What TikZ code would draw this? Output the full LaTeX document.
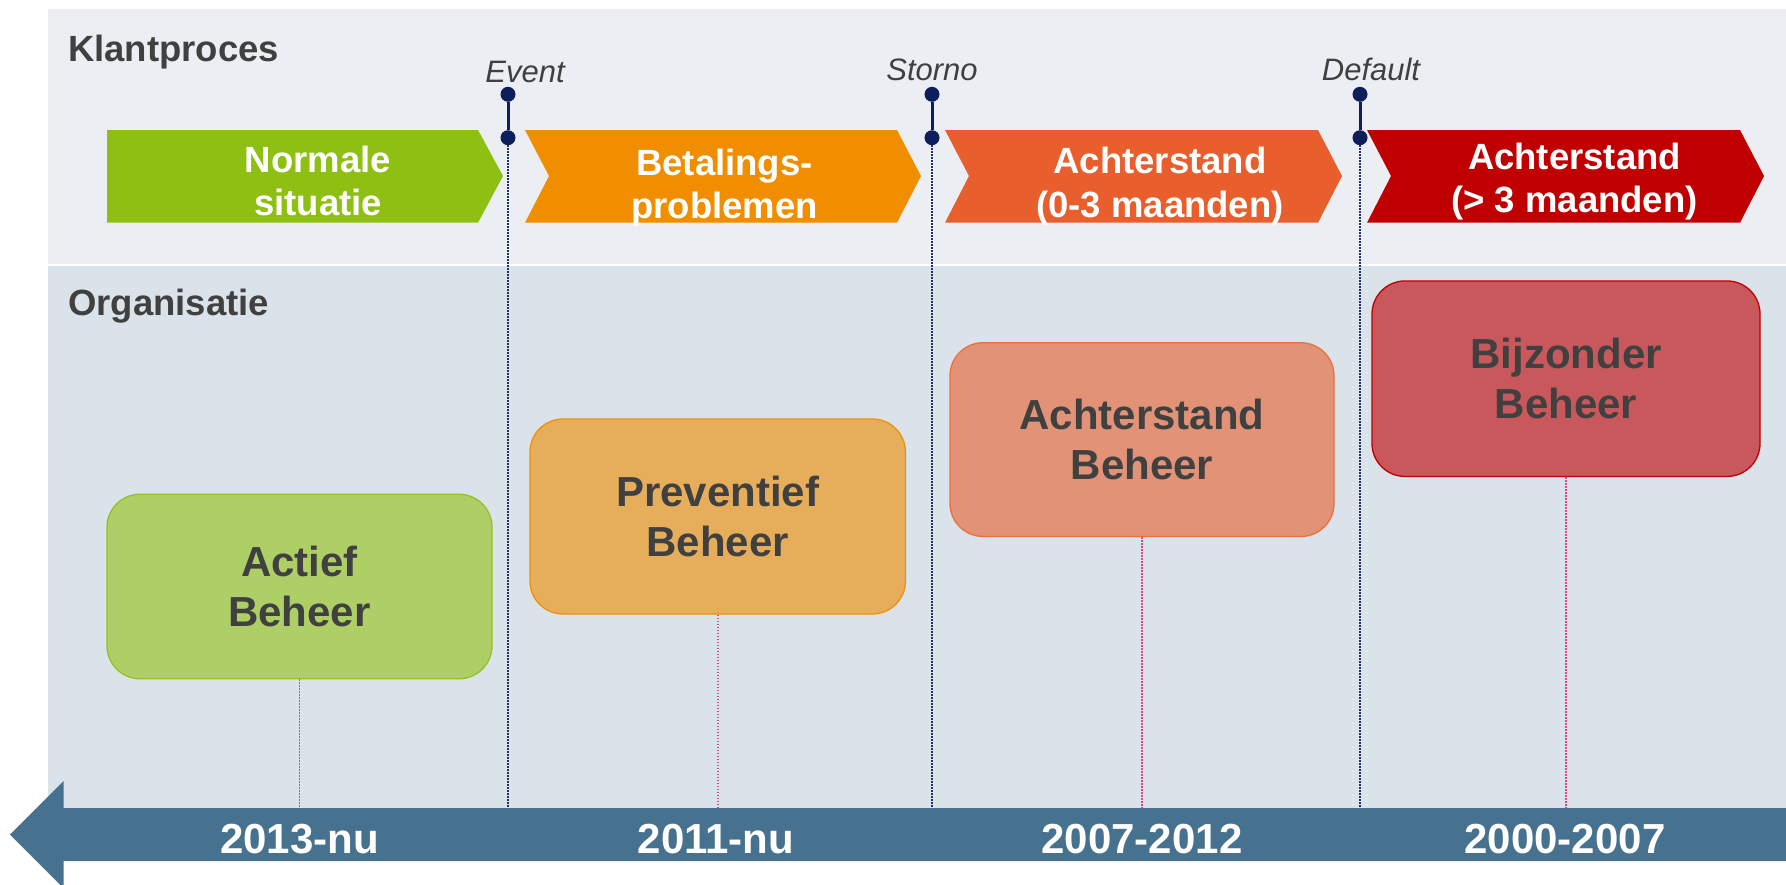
\documentclass[tikz,border=0pt]{standalone}
\usepackage{fontspec}
\setmainfont{Liberation Sans}
\definecolor{panelA}{HTML}{EBEFF3}
\definecolor{panelB}{HTML}{DAE2EA}
\definecolor{cGreen}{HTML}{8DC012}
\definecolor{cOrange}{HTML}{F08E00}
\definecolor{cRedOr}{HTML}{E85E2D}
\definecolor{cRed}{HTML}{C00000}
\definecolor{bGreen}{HTML}{AECF65}
\definecolor{bGreenL}{HTML}{95C127}
\definecolor{bOrange}{HTML}{E6AE5B}
\definecolor{bOrangeL}{HTML}{F0900A}
\definecolor{bSalmon}{HTML}{E29276}
\definecolor{bSalmonL}{HTML}{EC6F3C}
\definecolor{bRed}{HTML}{C9585C}
\definecolor{bRedL}{HTML}{C00000}
\definecolor{txtGray}{HTML}{404040}
\definecolor{barBlue}{HTML}{46728F}
\definecolor{navy}{HTML}{0C1F5C}
\definecolor{pinkDot}{HTML}{E0468E}
\tikzset{
  chevtext/.style={font=\fontsize{36.5}{44}\selectfont\bfseries, text=white, anchor=base, inner sep=0pt},
  headtext/.style={font=\fontsize{36.5}{44}\selectfont\bfseries, text=txtGray, anchor=base west, inner sep=0pt},
  evlabel/.style={font=\fontsize{31}{36}\selectfont\itshape, text=txtGray, anchor=base, inner sep=0pt},
  evdot/.style={circle, fill=navy, inner sep=0pt, minimum size=15pt},
  evline/.style={navy, line width=3pt},
  evdotted/.style={navy!80!gray, line width=1.3pt, dash pattern=on 1.5pt off 1.5pt},
  beheer/.style={rounded corners=33pt, line width=1.3pt, align=center, inner sep=0pt,
    font=\fontsize{42}{50}\selectfont\bfseries, text=txtGray},
  pinkline/.style={pinkDot, line width=1.6pt, dash pattern=on 1.5pt off 1.5pt},
  bartext/.style={font=\fontsize{42}{50}\selectfont\bfseries, text=white, anchor=base, inner sep=0pt}
}
\begin{document}
\begin{tikzpicture}[x=1pt,y=-1pt]
\useasboundingbox (0,0) rectangle (1786,884);
\fill[white] (0,0) rectangle (1786,884);
% panels
\fill[panelA] (48,9) rectangle (1786,264);
\fill[panelB] (48,266) rectangle (1786,808);
\node[headtext] (klant) at (68,61) {Klantproces};
\node[headtext] (org) at (68,315) {Organisatie};
% event markers
\node[evdot] (ev1a) at (508,94.3) {};
\node[evdot] (ev1b) at (508,137.7) {};
\coordinate (ev1c) at (508,808);
\draw[evdotted] (ev1b) -- (ev1c);
\draw[evline] (ev1a) -- (ev1b);
\node[evlabel] (ev1l) at (525,82) {Event};
\node[evdot] (ev2a) at (932,94.3) {};
\node[evdot] (ev2b) at (932,137.7) {};
\coordinate (ev2c) at (932,808);
\draw[evdotted] (ev2b) -- (ev2c);
\draw[evline] (ev2a) -- (ev2b);
\node[evlabel] (ev2l) at (932,80) {Storno};
\node[evdot] (ev3a) at (1360,94.3) {};
\node[evdot] (ev3b) at (1360,137.7) {};
\coordinate (ev3c) at (1360,808);
\draw[evdotted] (ev3b) -- (ev3c);
\draw[evline] (ev3a) -- (ev3b);
\node[evlabel] (ev3l) at (1371,80) {Default};
% chevrons
\fill[cGreen] (107,130) -- (478,130) -- (503,176) -- (478,222.7) -- (107,222.7) -- cycle;
\fill[cOrange] (525,130) -- (897,130) -- (921,176) -- (897,222.7) -- (525,222.7) -- (549,176) -- cycle;
\fill[cRedOr] (945,130) -- (1318,130) -- (1342,176) -- (1318,222.7) -- (945,222.7) -- (969,176) -- cycle;
\fill[cRed] (1367,130) -- (1740,130) -- (1764,176) -- (1740,222.7) -- (1367,222.7) -- (1391,176) -- cycle;
\node[chevtext] (c1a) at (318,172) {Normale};
\node[chevtext] (c1b) at (318,215) {situatie};
\node[chevtext] (c2a) at (724.5,175) {Betalings-};
\node[chevtext] (c2b) at (724.5,218) {problemen};
\node[chevtext] (c3a) at (1160,173) {Achterstand};
\node[chevtext] (c3b) at (1160,217) {(0-3 maanden)};
\node[chevtext] (c4a) at (1574.5,169) {Achterstand};
\node[chevtext] (c4b) at (1574.5,212) {(> 3 maanden)};
% boxes
\node[beheer, fill=bGreen, draw=bGreenL, minimum width=385pt, minimum height=184.5pt] (b1) at (299.5,586.5) {Actief\\Beheer};
\node[beheer, fill=bOrange, draw=bOrangeL, minimum width=375.5pt, minimum height=195pt] (b2) at (717.7,516.5) {Preventief\\Beheer};
\node[beheer, fill=bSalmon, draw=bSalmonL, minimum width=384pt, minimum height=193.7pt] (b3) at (1142,439.6) {Achterstand\\Beheer};
\node[beheer, fill=bRed, draw=bRedL, minimum width=388pt, minimum height=195.5pt] (b4) at (1566,378.7) {Bijzonder\\Beheer};
\coordinate (p1) at (299.5,808);
\coordinate (p2) at (717.7,808);
\coordinate (p3) at (1142,808);
\coordinate (p4) at (1566,808);
\draw[pinkline] (b1.south) -- (p1);
\draw[pinkline] (b2.south) -- (p2);
\draw[pinkline] (b3.south) -- (p3);
\draw[pinkline] (b4.south) -- (p4);
% bottom bar
\fill[barBlue] (63.5,808) -- (1786,808) -- (1786,861) -- (63.5,861) -- (63.5,888) -- (10,834.5) -- (63.5,781) -- cycle;
\node[bartext] (y1) at (299.5,853) {2013-nu};
\node[bartext] (y2) at (716,853) {2011-nu};
\node[bartext] (y3) at (1142,853) {2007-2012};
\node[bartext] (y4) at (1565,853) {2000-2007};
\end{tikzpicture}
\end{document}
